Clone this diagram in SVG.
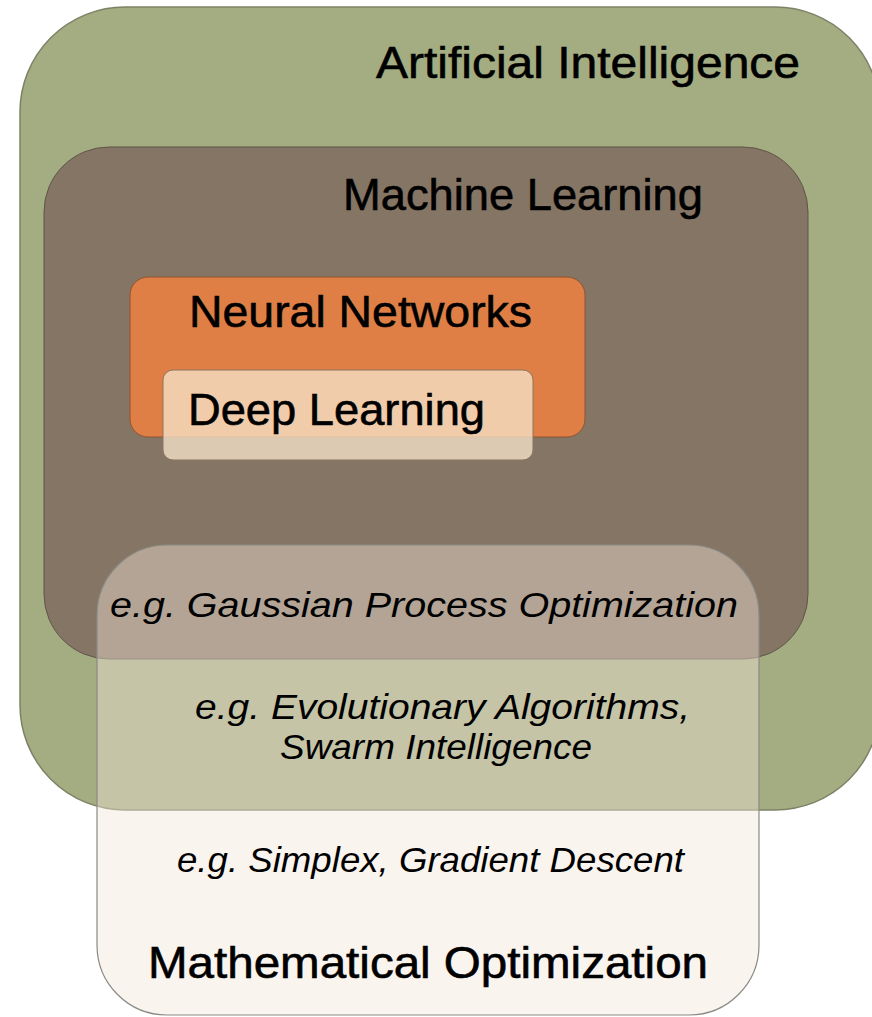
<svg xmlns="http://www.w3.org/2000/svg" width="872" height="1017" viewBox="0 0 872 1017">
<style>
.lbl{font-family:"Liberation Sans",Arial,sans-serif;font-size:45px;fill:#000;stroke:#000;stroke-width:0.6}
.ex{font-family:"Liberation Sans",Arial,sans-serif;font-style:italic;font-size:35px;fill:#000}
</style>
<rect x="0" y="0" width="872" height="1017" fill="#ffffff"/>
<g id="ai">
<rect x="20" y="7" width="860" height="803" rx="105" ry="105" fill="#a4ac82" stroke="#7d8266" stroke-width="1.5"/>
</g>
<g id="ml">
<rect x="44" y="147" width="764" height="512" rx="65" ry="65" fill="#857565" stroke="#5f5548" stroke-width="1"/>
</g>
<g id="nn">
<rect x="130" y="277" width="455" height="160" rx="18" ry="18" fill="#df7f45" stroke="#8c5533" stroke-width="1"/>
</g>
<g id="dl">
<rect x="163" y="370" width="370" height="90" rx="10" ry="10" fill="#f5e2c8" fill-opacity="0.78" stroke="#8b7560" stroke-width="1"/>
</g>
<g id="mo">
<rect x="97" y="545" width="662" height="470" rx="70" ry="70" fill="#f4e4d8" fill-opacity="0.42" stroke="#8a8a84" stroke-width="1.2"/>
</g>
<g id="connectors"/>
<g id="labels">
<text class="lbl" x="376" y="78" textLength="424" lengthAdjust="spacingAndGlyphs">Artificial Intelligence</text>
<text class="lbl" x="343" y="210" textLength="360" lengthAdjust="spacingAndGlyphs">Machine Learning</text>
<text class="lbl" x="189" y="327" textLength="343" lengthAdjust="spacingAndGlyphs">Neural Networks</text>
<text class="lbl" x="188" y="425" textLength="297" lengthAdjust="spacingAndGlyphs">Deep Learning</text>
<text class="ex" x="110" y="617" textLength="628" lengthAdjust="spacingAndGlyphs">e.g. Gaussian Process Optimization</text>
<text class="ex" x="195" y="719" textLength="495" lengthAdjust="spacingAndGlyphs">e.g. Evolutionary Algorithms,</text>
<text class="ex" x="280" y="759" textLength="312" lengthAdjust="spacingAndGlyphs">Swarm Intelligence</text>
<text class="ex" x="177" y="872" textLength="507" lengthAdjust="spacingAndGlyphs">e.g. Simplex, Gradient Descent</text>
<text class="lbl" x="148" y="978" textLength="560" lengthAdjust="spacingAndGlyphs">Mathematical Optimization</text>
</g>
</svg>
